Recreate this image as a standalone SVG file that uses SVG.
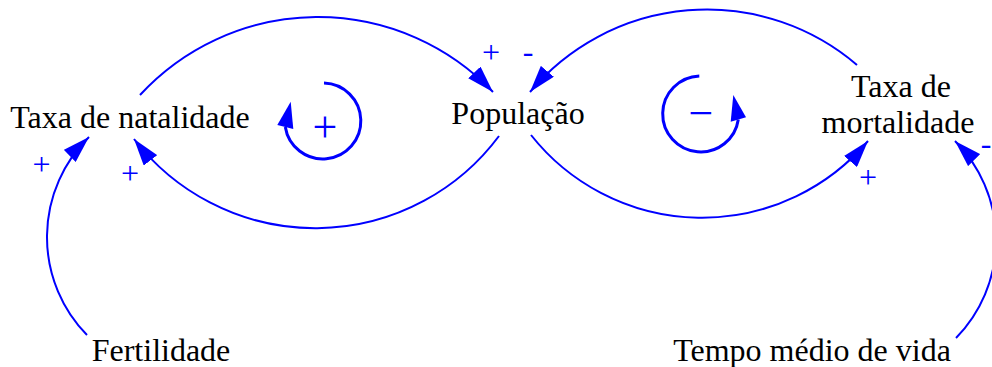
<svg xmlns="http://www.w3.org/2000/svg" width="992" height="367" viewBox="0 0 992 367">
<style>
.node{font-family:"Liberation Serif","Times New Roman",serif;font-size:32px;fill:#000;text-anchor:middle}
.sign{font-family:"Liberation Serif","Times New Roman",serif;font-size:32px;fill:#0000ff;text-anchor:middle}
.loop{font-family:"Liberation Serif","Times New Roman",serif;font-size:44px;fill:#0000ff;text-anchor:middle}
.arc{fill:none;stroke:#0000ff;stroke-width:2}
.loopArc{fill:none;stroke:#0000ff;stroke-width:3}
.head{fill:#0000ff}
</style>
<defs>
<marker id="arrow" markerUnits="userSpaceOnUse" viewBox="0 0 27 17" refX="27" refY="8.5" markerWidth="27" markerHeight="17" orient="auto">
<path d="M0,0 L27,8.5 L0,17 z" fill="#0000ff"/>
</marker>
</defs>
<rect width="992" height="367" fill="#fff"/>
<g id="connectors">
<path class="arc" d="M140,95 A242,242 0 0 1 493,92" marker-end="url(#arrow)"/>
<path class="arc" d="M499,136 A229,229 0 0 1 134,139" marker-end="url(#arrow)"/>
<path class="arc" d="M857,65 A231,231 0 0 0 530,92" marker-end="url(#arrow)"/>
<path class="arc" d="M531,135 A218,218 0 0 0 868,141" marker-end="url(#arrow)"/>
<path class="arc" d="M87,335 A140,140 0 0 1 89,137" marker-end="url(#arrow)"/>
<path class="arc" d="M956,338 A140,140 0 0 0 955,141" marker-end="url(#arrow)"/>
<text class="sign" x="491" y="63">+</text>
<text class="sign" x="528" y="62">-</text>
<text class="sign" x="41.5" y="175">+</text>
<text class="sign" x="130" y="184">+</text>
<text class="sign" x="868" y="188">+</text>
<text class="sign" x="986" y="154">-</text>
</g>
<g id="loop-reinforcing">
<path class="loopArc" d="M324,83 A38,38 0 1 1 285.3,127"/>
<polygon class="head" points="290.7,101.7 277.3,125 293.3,129"/>
<text class="loop" x="325" y="142">+</text>
</g>
<g id="loop-balancing">
<path class="loopArc" d="M699.3,76 A38,38 0 1 0 738.3,119.5"/>
<polygon class="head" points="733.3,95 730.7,121.7 746,117.3"/>
<text class="loop" x="701" y="128">−</text>
</g>
<g id="taxa-natalidade"><text class="node" x="130" y="128">Taxa de natalidade</text></g>
<g id="populacao"><text class="node" x="518" y="124">População</text></g>
<g id="taxa-mortalidade"><text class="node" x="901" y="97">Taxa de</text><text class="node" x="898" y="133">mortalidade</text></g>
<g id="fertilidade"><text class="node" x="161" y="361">Fertilidade</text></g>
<g id="tempo-medio"><text class="node" x="812" y="361">Tempo médio de vida</text></g>
</svg>
